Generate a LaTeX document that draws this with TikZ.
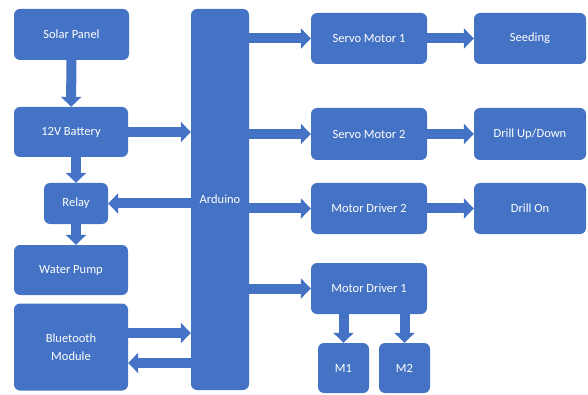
\documentclass[tikz,border=0pt]{standalone}
\usepackage{fontspec}
\setmainfont{Carlito}
\usepackage{tikz}
\usetikzlibrary{arrows.meta}
\usepackage{xcolor}
\definecolor{blockblue}{HTML}{4472C4}

\begin{document}
\begin{tikzpicture}[x=1pt,y=-1pt,
  block/.style={draw=none, fill=blockblue, rounded corners=6pt, text=white,
    inner sep=0pt, align=center, font=\fontsize{12.5}{18.5}\selectfont},
  flow/.style={draw=blockblue, line width=10pt,
    -{Triangle[width=20pt,length=10pt]}}]
\useasboundingbox (0,0) rectangle (588,395);

%draw power and left blocks
\node[block, minimum width=115, minimum height=51] (solar) at (71.5,34.5) {Solar Panel};
\node[block, minimum width=114, minimum height=50] (battery) at (71,132) {12V Battery};
\node[block, minimum width=64, minimum height=41] (relay) at (76,203.5) {Relay};
\node[block, minimum width=114, minimum height=50] (pump) at (71,270) {Water Pump};
\node[block, minimum width=114, minimum height=87] (bluetooth) at (71,347) {Bluetooth\\Module};

%draw controller
\node[block, minimum width=58, minimum height=381] (arduino) at (220,199.5) {Arduino};

%draw right blocks
\node[block, minimum width=116, minimum height=51] (servoone) at (369,38.5) {Servo Motor 1};
\node[block, minimum width=112, minimum height=51] (seeding) at (530,38.5) {Seeding};
\node[block, minimum width=116, minimum height=52] (servotwo) at (369,134) {Servo Motor 2};
\node[block, minimum width=112, minimum height=52] (drillupdown) at (530,134) {Drill Up/Down};
\node[block, minimum width=116, minimum height=51] (drivertwo) at (369,208.5) {Motor Driver 2};
\node[block, minimum width=112, minimum height=51] (drillon) at (530,208.5) {Drill On};
\node[block, minimum width=116, minimum height=51] (driverone) at (369,288.5) {Motor Driver 1};
\node[block, minimum width=51, minimum height=50] (mone) at (343.5,368) {M1};
\node[block, minimum width=51, minimum height=50] (mtwo) at (404.5,368) {M2};

%draw arrows on the left
\draw[flow] (solar) -- (battery);
\draw[flow] (battery.east) -- (battery.east -| arduino.west);
\draw[flow] (relay.north |- battery.south) -- (relay.north);
\draw[flow] (relay.east -| arduino.west) -- (relay.east);
\draw[flow] (relay.south) -- (relay.south |- pump.north);
\draw[flow] ([yshift=14pt]bluetooth.east) -- ([yshift=14pt]bluetooth.east -| arduino.west);
\draw[flow] ([yshift=-16pt]bluetooth.east -| arduino.west) -- ([yshift=-16pt]bluetooth.east);

%draw arrows on the right
\foreach \blk in {servoone,servotwo,drivertwo,driverone}
  \draw[flow] (\blk.west -| arduino.east) -- (\blk.west);
\draw[flow] (servoone) -- (seeding);
\draw[flow] (servotwo) -- (drillupdown);
\draw[flow] (drivertwo) -- (drillon);
\draw[flow] (mone.north |- driverone.south) -- (mone.north);
\draw[flow] (mtwo.north |- driverone.south) -- (mtwo.north);
\end{tikzpicture}
\end{document}
